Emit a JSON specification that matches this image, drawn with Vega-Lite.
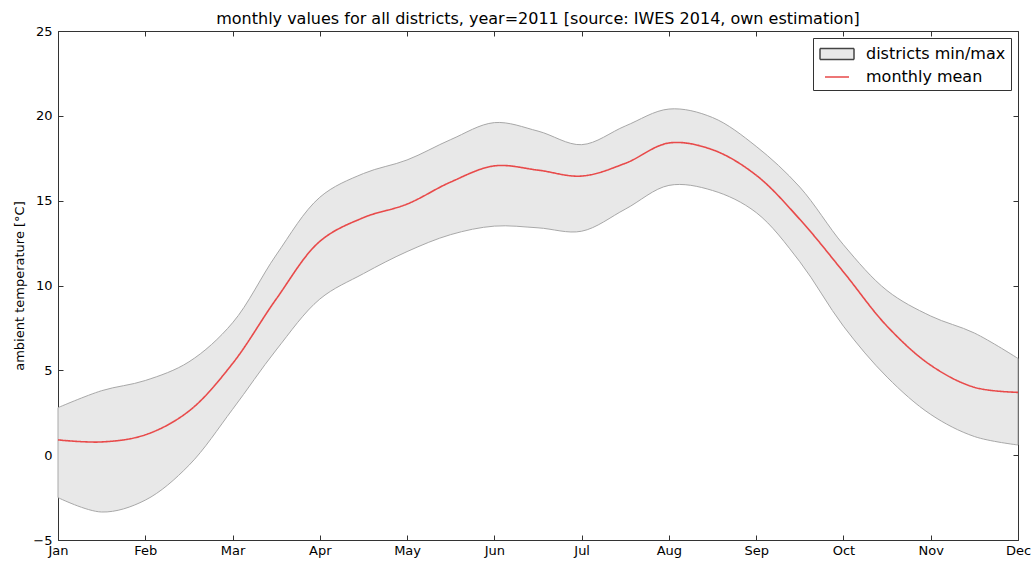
{
  "$schema": "https://vega.github.io/schema/vega-lite/v6.json",
  "width": 960,
  "height": 509,
  "autosize": "none",
  "padding": {"left": 58, "top": 31, "right": 15, "bottom": 21},
  "background": "white",
  "config": {
    "font": "DejaVu Sans",
    "view": {"stroke": "#333", "strokeWidth": 1},
    "axis": {"labelFontSize": 13, "labelColor": "#000", "domainColor": "#333", "tickColor": "#333", "grid": false, "labelFont": "DejaVu Sans", "titleFont": "DejaVu Sans", "titleFontWeight": "normal", "titleColor": "#000"},
    "legend": {"title": null, "orient": "top-right", "offset": 7, "labelFontSize": 16, "labelColor": "#000", "strokeColor": "#333", "fillColor": "white", "padding": 5, "rowPadding": 3, "symbolSize": 400, "symbolOffset": 8, "labelOffset": 18}
  },
  "title": {"text": "monthly values for all districts, year=2011 [source: IWES 2014, own estimation]", "fontSize": 16, "fontWeight": "normal", "color": "#000", "offset": -2, "anchor": "middle"},
  "data": {"values": [
    {"m": 0, "lower": -2.5, "mean": 0.9, "upper": 2.8},
    {"m": 0.5, "lower": -3.35, "mean": 0.78, "upper": 3.8},
    {"m": 1, "lower": -2.65, "mean": 1.2, "upper": 4.4},
    {"m": 1.5, "lower": -0.6, "mean": 2.6, "upper": 5.5},
    {"m": 2, "lower": 2.7, "mean": 5.4, "upper": 7.8},
    {"m": 2.5, "lower": 6.2, "mean": 9.2, "upper": 11.8},
    {"m": 3, "lower": 9.2, "mean": 12.6, "upper": 15.2},
    {"m": 3.5, "lower": 10.7, "mean": 14.0, "upper": 16.6},
    {"m": 4, "lower": 12.0, "mean": 14.8, "upper": 17.4},
    {"m": 4.5, "lower": 13.0, "mean": 16.1, "upper": 18.6},
    {"m": 5, "lower": 13.5, "mean": 17.05, "upper": 19.6},
    {"m": 5.5, "lower": 13.4, "mean": 16.8, "upper": 19.1},
    {"m": 6, "lower": 13.2, "mean": 16.45, "upper": 18.3},
    {"m": 6.5, "lower": 14.5, "mean": 17.2, "upper": 19.4},
    {"m": 7, "lower": 15.9, "mean": 18.4, "upper": 20.4},
    {"m": 7.5, "lower": 15.6, "mean": 18.0, "upper": 19.9},
    {"m": 8, "lower": 14.3, "mean": 16.5, "upper": 18.2},
    {"m": 8.5, "lower": 11.4, "mean": 13.9, "upper": 15.8},
    {"m": 9, "lower": 7.6, "mean": 10.8, "upper": 12.4},
    {"m": 9.5, "lower": 4.6, "mean": 7.6, "upper": 9.7},
    {"m": 10, "lower": 2.4, "mean": 5.3, "upper": 8.2},
    {"m": 10.5, "lower": 1.1, "mean": 4.0, "upper": 7.2},
    {"m": 11, "lower": 0.6, "mean": 3.7, "upper": 5.7}
  ]},
  "resolve": {"axis": {"x": "independent", "y": "independent"}},
  "layer": [
    {
      "mark": {"type": "area", "interpolate": "catmull-rom", "fill": "#e8e8e8", "stroke": "#a8a8a8", "strokeWidth": 1, "fillOpacity": 1},
      "encoding": {
        "x": {"field": "m", "type": "quantitative", "scale": {"domain": [0, 11], "nice": false, "zero": false},
          "axis": {"orient": "bottom", "title": null, "values": [0,1,2,3,4,5,6,7,8,9,10,11], "tickSize": -5, "labelPadding": 9, "labelFlush": false, "labelOverlap": false, "domain": false,
            "labelExpr": "['Jan','Feb','Mar','Apr','May','Jun','Jul','Aug','Sep','Oct','Nov','Dec'][datum.value]"}},
        "y": {"field": "lower", "type": "quantitative", "scale": {"domain": [-5, 25], "nice": false, "zero": false},
          "axis": {"orient": "left", "title": "ambient temperature [°C]", "titleFontSize": 13, "values": [-5,0,5,10,15,20,25], "tickSize": -5, "labelPadding": 11, "domain": false, "titlePadding": 6}},
        "y2": {"field": "upper"}
      }
    },
    {
      "mark": {"type": "line", "interpolate": "catmull-rom", "strokeWidth": 1.6, "color": "#e84a4a"},
      "encoding": {
        "x": {"field": "m", "type": "quantitative", "axis": {"orient": "top", "title": null, "values": [0,1,2,3,4,5,6,7,8,9,10,11], "tickSize": -5, "labels": false, "domain": false}},
        "y": {"field": "mean", "type": "quantitative", "axis": {"orient": "right", "title": null, "values": [-5,0,5,10,15,20,25], "tickSize": -5, "labels": false, "domain": false}},
        "strokeDash": {"datum": "monthly mean", "type": "nominal",
          "scale": {"domain": ["districts min/max", "monthly mean"], "range": [[1, 0], [1, 0]]},
          "legend": {"encoding": {"symbols": {
              "shape": {"value": {"expr": "datum.value === 'monthly mean' ? 'M-1.2,0H1.2' : 'M-1.7,-0.55H1.7V0.55H-1.7Z'"}},
              "fill": {"value": {"expr": "datum.value === 'monthly mean' ? 'transparent' : '#e8e8e8'"}},
              "stroke": {"value": {"expr": "datum.value === 'monthly mean' ? '#e84a4a' : '#444'"}},
              "strokeWidth": {"value": 1.5},
              "opacity": {"value": 1}
            }}}}
      }
    }
  ]
}
